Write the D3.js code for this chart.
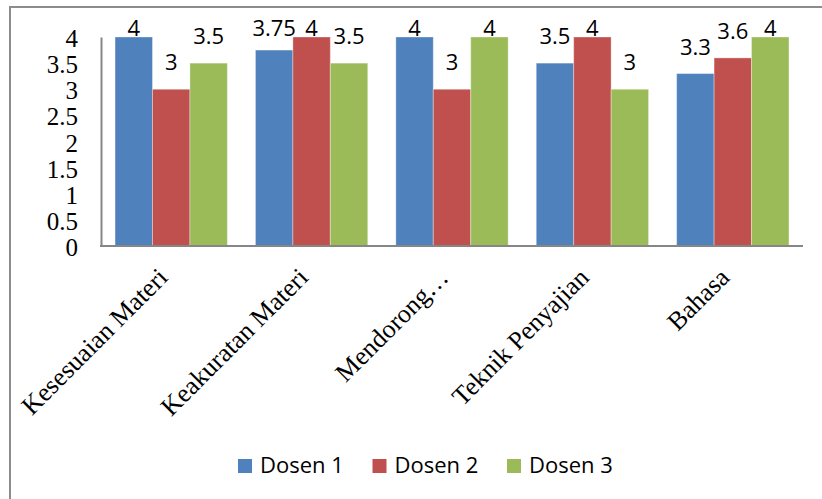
<!DOCTYPE html>
<html>
<head>
<meta charset="utf-8">
<script src="https://cdn.jsdelivr.net/npm/d3@7"></script>
<style>
  body { margin: 0; background: #fff; }
  svg { display: block; }
</style>
</head>
<body>
<script>
// chart data
const categories = ["Kesesuaian Materi", "Keakuratan Materi", "Mendorong…", "Teknik Penyajian", "Bahasa"];
const seriesNames = ["Dosen 1", "Dosen 2", "Dosen 3"];
const dosen1 = [4, 3.75, 4, 3.5, 3.3];
const dosen2 = [3, 4, 3, 4, 3.6];
const dosen3 = [3.5, 3.5, 4, 3, 4];
const yTicks = [0, 0.5, 1, 1.5, 2, 2.5, 3, 3.5, 4];
const colors = ["#4F81BD", "#C0504D", "#9BBB59"];

const width = 822;
const height = 499;
const plot = { left: 101, right: 803, top: 37, bottom: 246 };
const serif = "'Liberation Serif', 'Times New Roman', serif";
const sans = "'Open Sans', sans-serif";

const svg = d3.select("body").append("svg")
  .attr("width", width)
  .attr("height", height);

// outer chart frame (runs off the right/bottom edges)
svg.append("rect")
  .attr("x", 10).attr("y", 7)
  .attr("width", 900).attr("height", 600)
  .attr("fill", "none")
  .attr("stroke", "#8c8c8c")
  .attr("stroke-width", 2);

// category band, excel style gap width: band = 3 bars + 0.75 bar gap
const x0 = d3.scaleBand()
  .domain(categories)
  .range([plot.left, plot.right]);
const step = x0.step();
const barW = step / 3.75;
const x1 = d3.scaleBand()
  .domain(d3.range(seriesNames.length))
  .range([barW * 0.375, barW * 3.375]);

const y = d3.scaleLinear().domain([0, 4]).range([plot.bottom, plot.top]);

const rows = categories.map((c, i) => ({ cat: c, vals: [dosen1[i], dosen2[i], dosen3[i]] }));

// bars
const groups = svg.append("g").selectAll("g")
  .data(rows)
  .join("g")
  .attr("transform", d => `translate(${x0(d.cat)},0)`);

groups.selectAll("rect")
  .data(d => d.vals.map((v, s) => ({ v, s })))
  .join("rect")
  .attr("x", d => x1(d.s))
  .attr("y", d => y(d.v))
  .attr("width", x1.bandwidth())
  .attr("height", d => y(0) - y(d.v))
  .attr("fill", d => colors[d.s])
  .attr("stroke", "#fff")
  .attr("stroke-opacity", 0.35)
  .attr("stroke-width", 1);

// data labels (pushed down when they would leave the plot area)
groups.selectAll("text")
  .data(d => d.vals.map((v, s) => ({ v, s })))
  .join("text")
  .attr("x", d => x1(d.s) + x1.bandwidth() / 2)
  .attr("y", d => Math.max(y(d.v) - 19, 36))
  .attr("text-anchor", "middle")
  .attr("font-family", sans)
  .attr("font-size", 22)
  .attr("fill", "#000")
  .text(d => d.v);

// y axis
const yAxis = svg.append("g")
  .attr("transform", `translate(${plot.left},0)`)
  .call(d3.axisLeft(y).tickValues(yTicks).tickSize(0).tickPadding(23).tickFormat(d3.format("")));
yAxis.select(".domain").attr("stroke", "#868686").attr("stroke-width", 2);
yAxis.selectAll("text")
  .attr("font-family", serif)
  .attr("font-size", 25)
  .attr("fill", "#000")
  .attr("dy", "0.38em");

// x axis line
svg.append("line")
  .attr("x1", plot.left - 1).attr("x2", plot.right)
  .attr("y1", plot.bottom).attr("y2", plot.bottom)
  .attr("stroke", "#868686")
  .attr("stroke-width", 2);

// category labels, rotated -45
svg.append("g").selectAll("text")
  .data(categories)
  .join("text")
  .attr("transform", d => `translate(${x0(d) + step / 2 - 2},${plot.bottom + 33}) rotate(-45)`)
  .attr("text-anchor", "end")
  .attr("font-family", serif)
  .attr("font-size", 26)
  .attr("fill", "#000")
  .text(d => d);

// legend
const legend = svg.append("g").selectAll("g")
  .data(seriesNames)
  .join("g")
  .attr("transform", (d, i) => `translate(${238 + i * 134.5},459)`);
legend.append("rect")
  .attr("width", 14).attr("height", 14)
  .attr("fill", (d, i) => colors[i]);
legend.append("text")
  .attr("x", 22).attr("y", 14)
  .attr("font-family", sans)
  .attr("font-size", 22)
  .attr("fill", "#000")
  .text(d => d);
</script>
</body>
</html>
